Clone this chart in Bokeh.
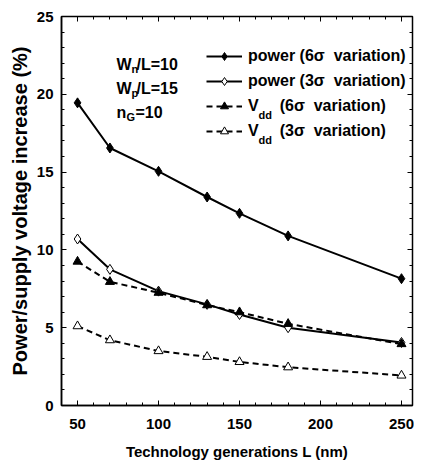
from bokeh.plotting import figure
from bokeh.models import (Range1d, LinearAxis, Legend, LegendItem, Label,
                          FixedTicker, CustomJSTickFormatter)
from bokeh.embed import file_html
from bokeh.resources import INLINE

# ---- data ----
L_nm = [50, 70, 100, 130, 150, 180, 250]
power_6sigma = [19.45, 16.55, 15.05, 13.4, 12.35, 10.9, 8.15]
power_3sigma = [10.7, 8.75, 7.35, 6.5, 5.85, 5.0, 4.05]
vdd_6sigma = [9.25, 7.95, 7.25, 6.45, 6.0, 5.25, 3.95]
vdd_3sigma = [5.1, 4.2, 3.5, 3.13, 2.8, 2.46, 1.93]
x_ticks = [50, 100, 150, 200, 250]
y_ticks = [0, 5, 10, 15, 20, 25]

FONT = "Liberation Sans, Arial, sans-serif"

XR = (40.1, 256.8)
YR = (0, 25)

p = figure(frame_width=351, frame_height=389, output_backend="svg",
           toolbar_location=None,
           x_range=Range1d(*XR), y_range=Range1d(*YR),
           min_border_left=61, min_border_right=2, min_border_top=16,
           min_border_bottom=60, background_fill_color="white",
           border_fill_color="white")
p.xgrid.visible = False
p.ygrid.visible = False
p.outline_line_color = "black"
p.outline_line_width = 1.5

xtick = FixedTicker(ticks=x_ticks, minor_ticks=list(range(40, 261, 10)))
ytick = FixedTicker(ticks=y_ticks, minor_ticks=list(range(0, 26)))


def style_axis(ax, show_labels=True):
    ax.major_tick_in = 5
    ax.major_tick_out = 0
    ax.minor_tick_in = 3
    ax.minor_tick_out = 0
    ax.major_tick_line_color = "black"
    ax.minor_tick_line_color = "black"
    ax.axis_line_color = "black"
    ax.axis_line_width = 1.5
    if show_labels:
        ax.major_label_text_font = FONT
        ax.major_label_text_font_style = "bold"
        ax.major_label_text_font_size = "15px"
        ax.major_label_text_color = "black"
    else:
        ax.formatter = CustomJSTickFormatter(code="return ''")
        ax.major_label_standoff = 0
        ax.axis_line_color = None


p.xaxis.ticker = xtick
p.yaxis.ticker = ytick
style_axis(p.xaxis[0])
style_axis(p.yaxis[0])
p.xaxis.major_label_standoff = 13
p.yaxis.major_label_standoff = 8
p.xaxis.axis_label = "Technology generations L (nm)"
p.xaxis.axis_label_text_font = FONT
p.xaxis.axis_label_text_font_style = "bold"
p.xaxis.axis_label_text_font_size = "15px"
p.xaxis.axis_label_text_color = "black"
p.xaxis.axis_label_standoff = 11
p.yaxis.axis_label = "Power/supply voltage increase (%)"
p.yaxis.axis_label_text_font = FONT
p.yaxis.axis_label_text_font_style = "bold"
p.yaxis.axis_label_text_font_size = "20px"
p.yaxis.axis_label_text_color = "black"
p.yaxis.axis_label_standoff = 3

top_ax = LinearAxis(ticker=xtick)
style_axis(top_ax, False)
p.add_layout(top_ax, "above")
right_ax = LinearAxis(ticker=ytick)
style_axis(right_ax, False)
p.add_layout(right_ax, "right")

# ---- series ----
l1 = p.line(L_nm, power_6sigma, line_color="black", line_width=2)
m1 = p.scatter(L_nm, power_6sigma, marker="diamond", size=10,
               fill_color="black", line_color="black")
l2 = p.line(L_nm, power_3sigma, line_color="black", line_width=2)
m2 = p.scatter(L_nm, power_3sigma, marker="diamond", size=10,
               fill_color="white", line_color="black", line_width=1)
l3 = p.line(L_nm, vdd_6sigma, line_color="black", line_width=2,
            line_dash="6 4")
m3 = p.scatter(L_nm, vdd_6sigma, marker="triangle", size=9,
               fill_color="black", line_color="black")
l4 = p.line(L_nm, vdd_3sigma, line_color="black", line_width=2,
            line_dash="6 4")
m4 = p.scatter(L_nm, vdd_3sigma, marker="triangle", size=9,
               fill_color="white", line_color="black", line_width=1)

NB = "\u00a0"
GAP = NB * 4 + "\u2009"
legend = Legend(items=[
    LegendItem(label="power (6σ" + NB + " variation)", renderers=[l1, m1]),
    LegendItem(label="power (3σ" + NB + " variation)", renderers=[l2, m2]),
    LegendItem(label="V" + GAP + "(6σ" + NB + " variation)", renderers=[l3, m3]),
    LegendItem(label="V" + GAP + "(3σ" + NB + " variation)", renderers=[l4, m4]),
], location=(145, 264), padding=0, margin=0, spacing=5,
    glyph_width=36, glyph_height=20, label_height=20, label_standoff=6,
    border_line_color=None, background_fill_alpha=0,
    label_text_font=FONT, label_text_font_style="bold",
    label_text_font_size="16px", label_text_color="black")
p.add_layout(legend)

# ---- annotations (frame-pixel offsets converted to data units) ----
FW, FH = 351, 389


def dx(fx):
    return XR[0] + fx * (XR[1] - XR[0]) / FW


def dy(fy):
    return YR[1] - fy * (YR[1] - YR[0]) / FH


def txt(s, fx, fy, size=16):
    p.add_layout(Label(x=dx(fx), y=dy(fy), text=s, text_font=FONT,
                       text_font_style="bold", text_font_size=f"{size}px",
                       text_color="black", text_baseline="alphabetic"))


txt("W", 55, 48)
txt("n", 70, 52, 11)
txt("/L=10", 75, 48)
txt("W", 55, 72)
txt("p", 70, 76, 11)
txt("/L=15", 75, 72)
txt("n", 55, 96)
txt("G", 65, 100, 11)
txt("=10", 74, 96)

txt("dd", 197, 98, 11)
txt("dd", 197, 123, 11)

open("out.html", "w").write(file_html(p, INLINE))
